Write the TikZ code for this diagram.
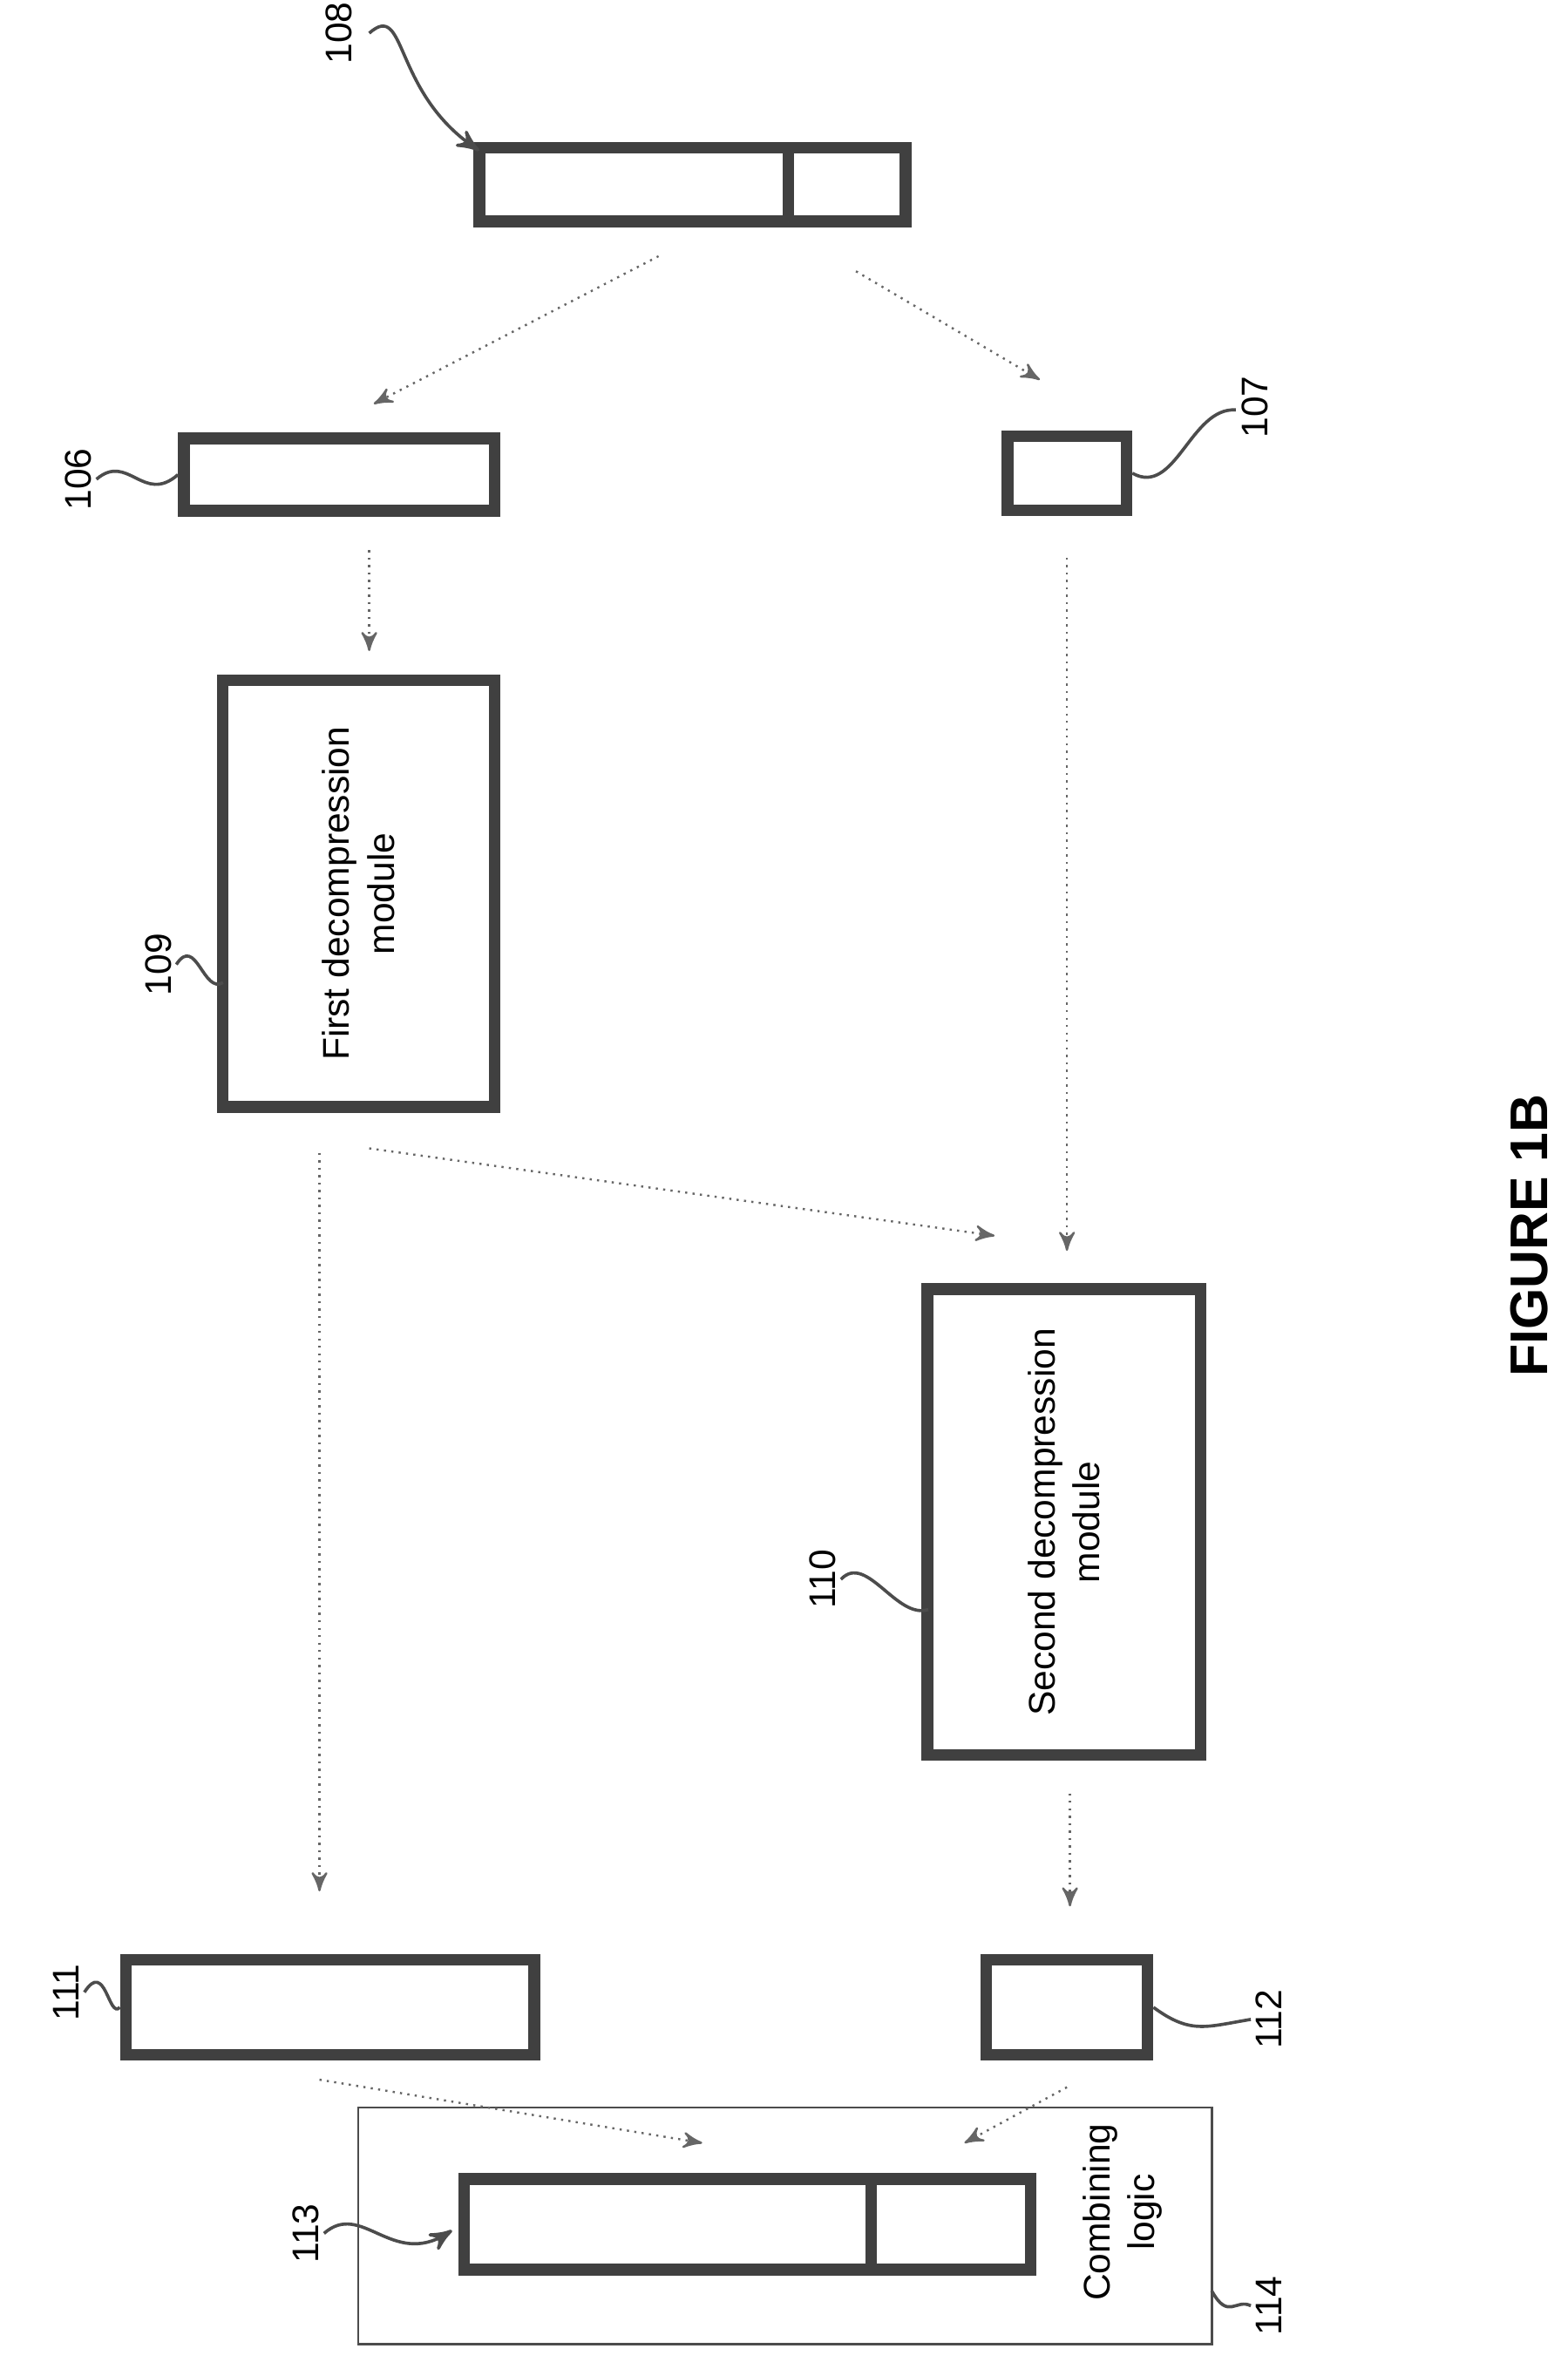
\documentclass[tikz,border=0pt]{standalone}
\usepackage{fontspec}
\setmainfont{Liberation Sans}
\usetikzlibrary{arrows, positioning}
\begin{document}
\begin{tikzpicture}[x=0.01cm, y=-0.01cm, >=stealth', font=\fontsize{7}{8.5}\selectfont]
	\tikzstyle{blk}=[draw=black!75, line width=2.2pt, inner sep=0pt, fill=white]
	\tikzstyle{flow}=[->, draw=black!60, thin, densely dotted]
	\tikzstyle{txt}=[rotate=90, align=center]
	\tikzstyle{ref}=[rotate=90]
	\tikzstyle{lead}=[draw=black!70, semithick]
	\useasboundingbox (0,0) rectangle (1040,1572);
	% blocks
	\draw[blk] (318,98) rectangle (601,147); \draw[blk] (523,98) -- (523,147);
	\coordinate (b108) at (318,100);
	\node[blk, minimum width=2.06cm, minimum height=0.48cm] (b106) at (225,315) {};
	\node[blk, minimum width=0.79cm, minimum height=0.49cm] (b107) at (708,314) {};
	\node[blk, minimum width=1.80cm, minimum height=2.83cm] (b109) at (238,593) {};
	\node[txt] at (b109) {First decompression\\module};
	\node[blk, minimum width=1.81cm, minimum height=3.09cm] (b110) at (706,1010) {};
	\node[txt] at (b110) {Second decompression\\module};
	\node[blk, minimum width=2.71cm, minimum height=0.63cm] (b111) at (219,1332) {};
	\node[blk, minimum width=1.07cm, minimum height=0.63cm] (b112) at (708,1332) {};
	\node[draw=black!70, thin, minimum width=5.66cm, minimum height=1.57cm, inner sep=0pt] (b114) at (521,1477) {};
	\node[txt] at (745,1468) {Combining\\logic};
	\draw[blk] (308,1446) rectangle (684,1506); \draw[blk] (578,1446) -- (578,1506);
	\coordinate (b113) at (300,1480);
	% flows
	\draw[flow] (437,170) -- (248,268);
	\draw[flow] (568,180) -- (690,252);
	\draw[flow] (245,365) -- (245,432);
	\draw[flow] (708,370) -- (708,830);
	\draw[flow] (245,762) -- (660,820);
	\draw[flow] (212,765) -- (212,1255);
	\draw[flow] (710,1190) -- (710,1265);
	\draw[flow] (212,1380) -- (466,1422);
	\draw[flow] (708,1385) -- (640,1422);
	% reference numerals
	\node[ref] (n108) at (225,22) {108};
	\draw[lead,->] (245,22) .. controls (270,0) and (260,60) .. (b108);
	\node[ref] (n106) at (52,318) {106};
	\draw[lead] (64,318) .. controls (85,300) and (95,335) .. (b106.west);
	\node[ref] (n107) at (833,270) {107};
	\draw[lead] (b107.east) .. controls (780,330) and (790,270) .. (820,272);
	\node[ref] (n109) at (105,640) {109};
	\draw[lead] (117,640) .. controls (130,620) and (135,660) .. (148,652);
	\node[ref] (n110) at (546,1048) {110};
	\draw[lead] (558,1048) .. controls (575,1030) and (595,1075) .. (616,1068);
	\node[ref] (n111) at (44,1322) {111};
	\draw[lead] (56,1322) .. controls (70,1300) and (72,1340) .. (b111.west);
	\node[ref] (n112) at (842,1340) {112};
	\draw[lead] (b112.east) .. controls (790,1350) and (800,1345) .. (830,1340);
	\node[ref] (n113) at (203,1482) {113};
	\draw[lead,->] (215,1482) .. controls (240,1460) and (260,1505) .. (b113);
	\node[ref] (n114) at (842,1530) {114};
	\draw[lead] (804,1520) .. controls (815,1540) and (820,1525) .. (830,1530);
	\node[rotate=90, font=\bfseries\fontsize{10}{12}\selectfont] (fig) at (1015,820) {FIGURE 1B};
\end{tikzpicture}
\end{document}
